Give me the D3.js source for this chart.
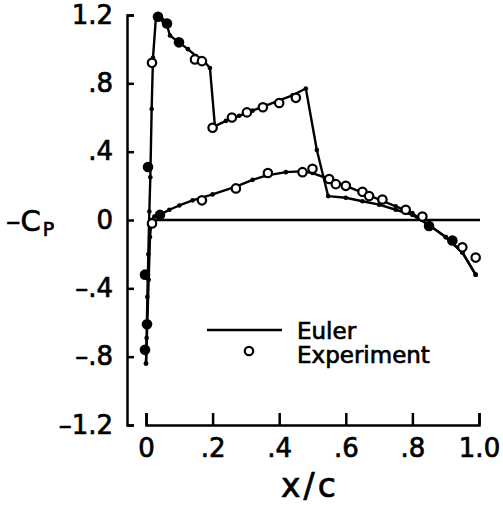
<!DOCTYPE html>
<html lang="en">
<head>
  <meta charset="UTF-8">
  <title>Cp distribution</title>
  <script src="https://d3js.org/d3.v7.min.js"></script>
  <style>
    body { margin: 0; background: #fff; }
    svg { display: block; }
    text { font-family: "DejaVu Sans", sans-serif; fill: #000; stroke: #000; stroke-width: 0.7px; }
  </style>
</head>
<body>
  <svg width="503" height="507"></svg>
  <script>
    // Euler solution, upper branch (x/c, -Cp)
    const eulerUpper = [
      [0.000, -0.84], [0.002, -0.69], [0.004, -0.45], [0.007, -0.20], [0.010, 0.05],
      [0.013, 0.25], [0.017, 0.65], [0.021, 0.95], [0.030, 1.19], [0.050, 1.17],
      [0.063, 1.14], [0.072, 1.08], [0.099, 1.04], [0.126, 1.00], [0.150, 0.96],
      [0.170, 0.94], [0.192, 0.89], [0.207, 0.55], [0.240, 0.58], [0.280, 0.61],
      [0.320, 0.64], [0.360, 0.67], [0.400, 0.70], [0.440, 0.73], [0.480, 0.77],
      [0.513, 0.41], [0.547, 0.14], [0.600, 0.13], [0.650, 0.11], [0.700, 0.09],
      [0.750, 0.06], [0.800, 0.03], [0.850, -0.03], [0.900, -0.10], [0.950, -0.19],
      [0.990, -0.32]
    ];

    // Euler solution, lower branch
    const eulerLower = [
      [0.000, -0.84], [0.004, -0.60], [0.008, -0.35], [0.012, -0.10], [0.017, 0.00],
      [0.025, 0.02], [0.042, 0.03], [0.070, 0.06], [0.100, 0.085], [0.140, 0.115],
      [0.200, 0.15], [0.270, 0.195], [0.320, 0.235], [0.360, 0.26], [0.420, 0.28],
      [0.470, 0.285], [0.500, 0.275], [0.550, 0.24], [0.600, 0.20], [0.650, 0.16],
      [0.700, 0.12], [0.750, 0.08], [0.800, 0.04], [0.850, -0.03], [0.900, -0.10],
      [0.950, -0.19], [0.990, -0.32]
    ];

    // Experiment, open symbols
    const expOpen = [
      [0.018, 0.92], [0.147, 0.94], [0.168, 0.93],
      [0.200, 0.54], [0.258, 0.60], [0.303, 0.63], [0.351, 0.66], [0.400, 0.685], [0.450, 0.715],
      [0.018, -0.02], [0.168, 0.115], [0.270, 0.185], [0.366, 0.275], [0.470, 0.28], [0.500, 0.30],
      [0.550, 0.24], [0.570, 0.21], [0.600, 0.20], [0.650, 0.165], [0.670, 0.14], [0.710, 0.12],
      [0.780, 0.06], [0.830, 0.02], [0.950, -0.16], [0.990, -0.22]
    ];

    // Experiment, symbols that print solid (overlapping the line)
    const expSolid = [
      [0.006, 0.31], [0.036, 1.19], [0.063, 1.15], [0.099, 1.04],
      [-0.003, -0.32], [0.003, -0.61], [-0.003, -0.76], [0.042, 0.03],
      [0.850, -0.035], [0.920, -0.12]
    ];

    const xTicks = [0, 0.2, 0.4, 0.6, 0.8, 1.0];
    const xTickLabels = ["0", ".2", ".4", ".6", ".8", "1.0"];
    const yTicks = [-1.2, -0.8, -0.4, 0, 0.4, 0.8, 1.2];
    const yTickLabels = ["\u20131.2", "\u2013.8", "\u2013.4", "0", ".4", ".8", "1.2"];

    const svg = d3.select("svg");

    const x = d3.scaleLinear().domain([0, 1]).range([146, 479]);
    const y = d3.scaleLinear().domain([-1.2, 1.2]).range([425, 15]);

    // y axis: ticks point inward, brackets at the ends
    const yAxis = d3.axisLeft(y)
      .tickValues(yTicks)
      .tickSizeInner(-7)
      .tickSizeOuter(-7)
      .tickPadding(14)
      .tickFormat((d, i) => yTickLabels[i]);

    const gy = svg.append("g")
      .attr("transform", "translate(127,0)")
      .call(yAxis);

    // x axis: separate line with upward ticks
    const xAxis = d3.axisBottom(x)
      .tickValues(xTicks)
      .tickSizeInner(-12)
      .tickSizeOuter(-12)
      .tickPadding(14)
      .tickFormat((d, i) => xTickLabels[i]);

    const gx = svg.append("g")
      .attr("transform", "translate(0,425)")
      .call(xAxis);

    [gx, gy].forEach(g => {
      g.select(".domain").attr("stroke", "#000").attr("stroke-width", 2.5).attr("fill", "none");
      g.selectAll(".tick line").attr("stroke", "#000").attr("stroke-width", 2.5);
      g.selectAll(".tick text")
        .attr("font-family", "DejaVu Sans, sans-serif")
        .attr("font-size", 26);
    });

    // zero line
    svg.append("line")
      .attr("x1", x(0.02)).attr("x2", x(1.0) + 1)
      .attr("y1", y(0)).attr("y2", y(0))
      .attr("stroke", "#000").attr("stroke-width", 2.5);

    const line = d3.line().x(d => x(d[0])).y(d => y(d[1]));

    [eulerUpper, eulerLower].forEach(series => {
      svg.append("path")
        .datum(series)
        .attr("d", line)
        .attr("fill", "none")
        .attr("stroke", "#000")
        .attr("stroke-width", 2.4)
        .attr("stroke-linejoin", "round");

      svg.append("g").selectAll("circle")
        .data(series)
        .join("circle")
        .attr("cx", d => x(d[0]))
        .attr("cy", d => y(d[1]))
        .attr("r", 2.3)
        .attr("fill", "#000");
    });

    svg.append("g").selectAll("circle")
      .data(expOpen)
      .join("circle")
      .attr("cx", d => x(d[0]))
      .attr("cy", d => y(d[1]))
      .attr("r", 4.2)
      .attr("fill", "#fff")
      .attr("stroke", "#000")
      .attr("stroke-width", 2.2);

    svg.append("g").selectAll("circle")
      .data(expSolid)
      .join("circle")
      .attr("cx", d => x(d[0]))
      .attr("cy", d => y(d[1]))
      .attr("r", 5.3)
      .attr("fill", "#000");

    // axis titles
    svg.append("text")
      .attr("x", 310).attr("y", 497)
      .attr("text-anchor", "middle")
      .attr("font-size", 33)
      .attr("letter-spacing", 3)
      .text("x/c");

    const cp = svg.append("text")
      .attr("x", 6).attr("y", 231)
      .attr("font-size", 29);
    cp.append("tspan").text("\u2013C");
    cp.append("tspan").attr("font-size", 19).attr("dy", 5).attr("dx", 2).text("P");

    // legend
    svg.append("line")
      .attr("x1", 207).attr("x2", 282)
      .attr("y1", 330).attr("y2", 330)
      .attr("stroke", "#000").attr("stroke-width", 2.5);
    svg.append("text")
      .attr("x", 297).attr("y", 339)
      .attr("font-size", 23)
      .text("Euler");
    svg.append("circle")
      .attr("cx", 249).attr("cy", 351)
      .attr("r", 4.2)
      .attr("fill", "#fff")
      .attr("stroke", "#000")
      .attr("stroke-width", 2.2);
    svg.append("text")
      .attr("x", 297).attr("y", 363)
      .attr("font-size", 23)
      .text("Experiment");
  </script>
</body>
</html>
